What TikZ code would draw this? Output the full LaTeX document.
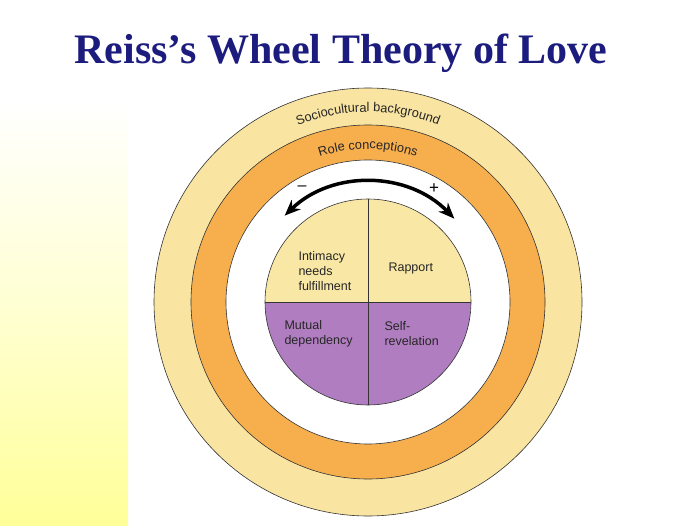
\documentclass[tikz,border=0pt]{standalone}
\usepackage{fontspec}
\setmainfont{Liberation Serif}
\newfontfamily\sans{Liberation Sans}
\usetikzlibrary{decorations.text,arrows.meta}
\definecolor{band}{HTML}{F9E4A2}
\definecolor{orng}{HTML}{F7AF4E}
\definecolor{pietop}{HTML}{F9E7A6}
\definecolor{purp}{HTML}{B07EC0}
\definecolor{navy}{HTML}{1C1C7E}
\definecolor{stripy}{HTML}{FFFF99}
\begin{document}
\begin{tikzpicture}[x=1pt,y=1pt,
  ring/.style={draw=black!80,line width=0.6pt},
  arctext/.style={decorate,decoration={text along path,text align=center,text color=black!85}},
  lbl/.style={font=\sans\fontsize{12.5}{15}\selectfont,align=left,anchor=west,text=black!85}]
\useasboundingbox (0,0) rectangle (700,525);
\shade[top color=white,bottom color=stripy,middle color=stripy!45] (0,0) rectangle (128,425);
\node[font=\bfseries\fontsize{42}{46}\selectfont,text=navy] (title) at (341,472) {Reiss’s Wheel Theory of Love};
\coordinate (c) at (368,223);
\fill[band,ring] (c) circle (214);
\fill[orng,ring] (c) circle (177);
\fill[white,ring] (c) circle (142);
\begin{scope}
\clip (c) circle (103);
\fill[pietop] (265,223) rectangle (471,326);
\fill[purp] (265,120) rectangle (471,223);
\end{scope}
\draw[ring] (c) circle (103);
\draw[ring] (265,223) -- (471,223);
\draw[ring] (368,120) -- (368,326);
\begin{scope}
\sans\fontsize{12.8}{14}\selectfont
\path[arctext,decoration={text={Sociocultural background}}]
  (c) ++(150:190) arc (150:30:190);
\path[arctext,decoration={text={Role conceptions}}]
  (c) ++(145:153) arc (145:35:153);
\end{scope}
\draw[line width=3.5pt,{Stealth[length=16pt,width=13pt]}-{Stealth[length=16pt,width=13pt]}]
  (c) ++(134:120) arc (134:44:120);
\node[font=\sans\fontsize{16}{16}\selectfont] (minus) at (302,337) {–};
\node[font=\sans\fontsize{17}{17}\selectfont] (plus) at (434,336) {+};
\node[lbl] (intim) at (295,254) {Intimacy\\needs\\fulfillment};
\node[lbl] (rapp) at (385,257) {Rapport};
\node[lbl] (mutual) at (281,191) {Mutual\\dependency};
\node[lbl] (self) at (381,191) {Self-\\revelation};
\end{tikzpicture}
\end{document}
